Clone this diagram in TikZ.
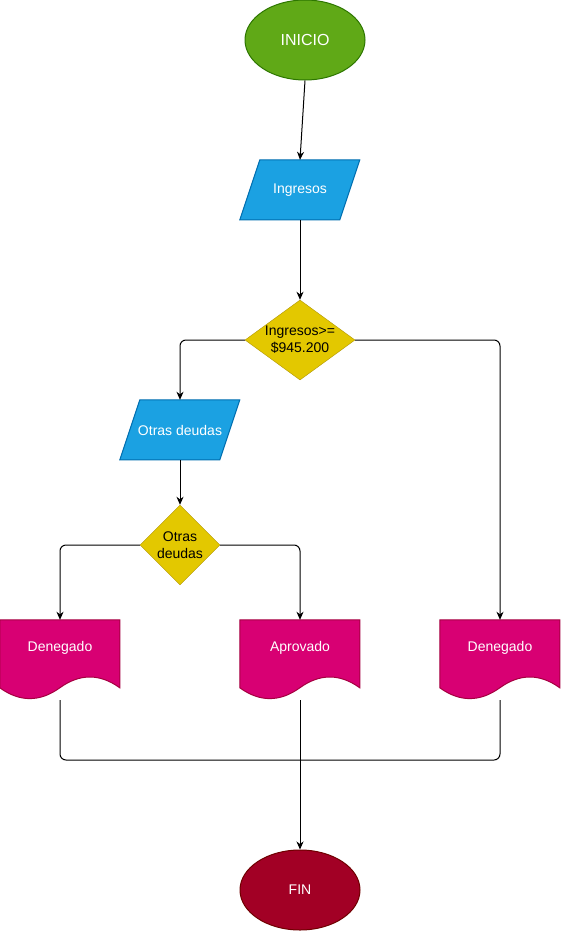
\documentclass[tikz,border=0pt]{standalone}
\usepackage{fontspec}
\setmainfont{Liberation Sans}
\usetikzlibrary{shapes.geometric,arrows.meta,backgrounds,calc}

\definecolor{startfill}{HTML}{60A917}
\definecolor{startline}{HTML}{2D7600}
\definecolor{iofill}{HTML}{1BA1E2}
\definecolor{ioline}{HTML}{006EAF}
\definecolor{decfill}{HTML}{E3C800}
\definecolor{decline}{HTML}{B09500}
\definecolor{docfill}{HTML}{D80073}
\definecolor{docline}{HTML}{A50040}
\definecolor{endfill}{HTML}{A20025}
\definecolor{endline}{HTML}{6F0000}

\tikzset{
  txt/.style={font=\fontsize{14}{16.8}\selectfont, align=center},
  terminal/.style={ellipse, minimum width=120pt, minimum height=80pt, inner sep=0pt, txt},
  iobox/.style={rectangle, minimum width=120pt, minimum height=60pt, inner sep=0pt, txt, text=white},
  decision/.style={diamond, aspect=1.375, inner sep=0pt, fill=decfill, draw=decline, txt},
  docbox/.style={rectangle, minimum width=120pt, minimum height=80pt, inner sep=0pt},
  doclbl/.style={font=\fontsize{14}{16.8}\selectfont, text=white, yshift=12pt, inner sep=0pt},
  flow/.style={line width=1pt, draw=black, rounded corners=6pt},
  arr/.style={flow, -{Stealth[length=8pt,width=7pt,inset=2.5pt]}},
}

% parallelogram body behind an input node
\newcommand\ioshape[1]{%
  \begin{scope}[shift={(#1.north west)}]
    \filldraw[fill=iofill, draw=ioline, line width=1pt] (20,0) -- (120,0) -- (100,60) -- (0,60) -- cycle;
  \end{scope}}
% document body with wavy lower edge
\newcommand\docshape[1]{%
  \begin{scope}[shift={(#1.north west)}]
    \filldraw[fill=docfill, draw=docline, line width=1pt]
      (0,0) -- (120,0) -- (120,68)
      .. controls (100,53.6) and (80,53.6) .. (60,68)
      .. controls (40,82.4) and (20,82.4) .. (0,68) -- cycle;
  \end{scope}}

\begin{document}
\begin{tikzpicture}[x=1pt, y=-1pt]
  \useasboundingbox (0,0) rectangle (561,931);

  % nodes
  \node[terminal, fill=startfill, draw=startline, line width=1pt, text=white,
        font=\fontsize{16}{19.2}\selectfont] (ini) at (305,40) {INICIO};
  \node[iobox] (ing) at (300,190) {Ingresos};
  \node[decision, minimum width=110pt, minimum height=80pt] (dec1) at (300,340) {Ingresos>=\\\$945.200};
  \node[iobox] (otr) at (180,430) {Otras deudas};
  \node[decision, aspect=1, minimum width=80pt, minimum height=80pt] (dec2) at (180,545) {Otras\\deudas};
  \node[docbox, label={[doclbl]center:Denegado}] (den1) at (60,660) {};
  \node[docbox, label={[doclbl]center:Aprovado}] (apr) at (300,660) {};
  \node[docbox, label={[doclbl]center:Denegado}] (den2) at (500,660) {};
  \node[terminal, fill=endfill, draw=endline, line width=1pt, text=white] (fin) at (300,890) {FIN};
  \coordinate (join) at (300,760);

  % shape bodies
  \begin{pgfonlayer}{background}
    \ioshape{ing}
    \ioshape{otr}
    \docshape{den1}
    \docshape{apr}
    \docshape{den2}
  \end{pgfonlayer}

  % connectors
  \draw[arr] (ini.south) -- (ing.north);
  \draw[arr] (ing.south) -- (dec1.north);
  \draw[arr] (dec1.west) -| (otr.north);
  \draw[arr] (dec1.east) -| (den2.north);
  \draw[arr] (otr.south) -- (dec2.north);
  \draw[arr] (dec2.west) -| (den1.north);
  \draw[arr] (dec2.east) -| (apr.north);
  \draw[flow] (den1.south) |- (join) -| (den2.south);
  \draw[arr] (apr.south) -- (fin.north);
\end{tikzpicture}
\end{document}
